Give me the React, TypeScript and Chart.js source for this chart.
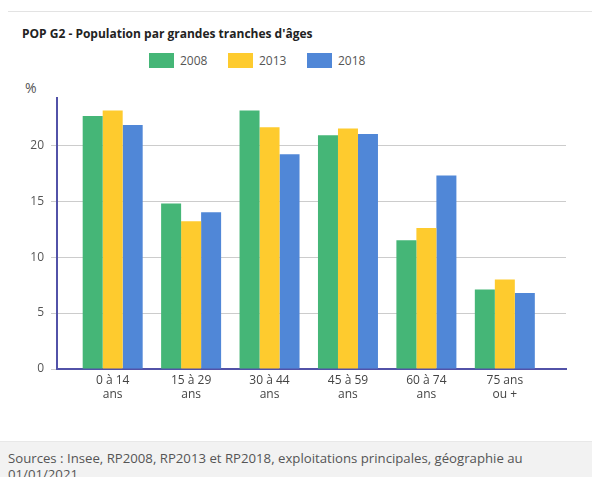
import React, { useEffect, useRef } from "react";
import { Chart, registerables } from "chart.js";

Chart.register(...registerables);

const categories: string[][] = [
  ["0 à 14", "ans"],
  ["15 à 29", "ans"],
  ["30 à 44", "ans"],
  ["45 à 59", "ans"],
  ["60 à 74", "ans"],
  ["75 ans", "ou +"],
];
const seriesNames = ["2008", "2013", "2018"];
const values2008 = [22.6, 14.8, 23.1, 20.9, 11.5, 7.1];
const values2013 = [23.1, 13.2, 21.6, 21.5, 12.6, 8.0];
const values2018 = [21.8, 14.0, 19.2, 21.0, 17.3, 6.8];
const yTicks = [0, 5, 10, 15, 20];
const colors = ["#45b677", "#fecb2e", "#5087d7"];

const FONT = "'Open Sans', 'Noto Sans', sans-serif";

export default function App() {
  const ref = useRef<HTMLCanvasElement | null>(null);

  useEffect(() => {
    if (!ref.current) return;
    const all = [values2008, values2013, values2018];
    const chart = new Chart(ref.current, {
      type: "bar",
      data: {
        datasets: all.map((vals, i) => ({
          label: seriesNames[i],
          data: vals.map((v, j) => ({ x: j, y: v })),
          backgroundColor: colors[i],
          borderWidth: 0,
          categoryPercentage: 0.765,
          barPercentage: 1,
        })),
      },
      options: {
        animation: false,
        responsive: false,
        maintainAspectRatio: false,
        layout: { padding: { top: 7, right: 26, bottom: 0, left: 0 } },
        plugins: {
          legend: { display: false },
          tooltip: { enabled: false },
        },
        scales: {
          x: {
            type: "linear",
            offset: false,
            min: -0.71,
            max: 5.78,
            afterBuildTicks: (scale: any) => {
              scale.ticks = categories.map((_, i) => ({ value: i }));
            },
            afterFit: (scale: any) => {
              scale.height = 51;
            },
            ticks: {
              autoSkip: false,
              maxRotation: 0,
              padding: 4,
              color: "#444",
              font: { family: FONT, size: 12 },
              callback: (v: any) => categories[v as number] ?? "",
            },
            grid: { display: false, drawTicks: false, offset: false },
            border: { color: "#5252a8", width: 2 },
          },
          y: {
            min: 0,
            max: 24.2,
            afterBuildTicks: (scale: any) => {
              scale.ticks = yTicks.map((v) => ({ value: v }));
            },
            afterFit: (scale: any) => {
              scale.width = 57;
            },
            ticks: {
              padding: 7,
              color: "#555",
              font: { family: FONT, size: 12 },
            },
            grid: { color: "#cccccc", tickLength: 6, lineWidth: 1 },
            border: { color: "#5252a8", width: 2 },
          },
        },
      },
    });
    return () => chart.destroy();
  }, []);

  return (
    <div
      style={{
        position: "absolute",
        left: 0,
        top: 0,
        width: 592,
        height: 477,
        overflow: "hidden",
        background: "#fff",
        fontFamily: FONT,
      }}
    >
      <div style={{ position: "absolute", left: 8, right: 0, top: 11, height: 1, background: "#e3e3e3" }} />
      <div
        style={{
          position: "absolute",
          left: 22,
          top: 25,
          fontSize: 12,
          fontWeight: 700,
          color: "#222",
          whiteSpace: "nowrap",
        }}
      >
        POP G2 - Population par grandes tranches d'âges
      </div>
      {seriesNames.map((name, i) => (
        <div
          key={name}
          style={{ position: "absolute", left: 149 + i * 79, top: 53, display: "flex", alignItems: "center" }}
        >
          <div style={{ width: 25, height: 15, background: colors[i] }} />
          <span style={{ marginLeft: 6, fontSize: 12, color: "#555", lineHeight: "15px" }}>{name}</span>
        </div>
      ))}
      <div style={{ position: "absolute", left: 25, top: 78, fontSize: 14, color: "#555" }}>%</div>
      <canvas
        ref={ref}
        width={592}
        height={336}
        style={{ position: "absolute", left: 0, top: 84, width: 592, height: 336 }}
      />
      <div
        style={{
          position: "absolute",
          left: 0,
          top: 441,
          width: 592,
          height: 36,
          background: "#f2f2f2",
          borderTop: "1px solid #e8e8e8",
          boxSizing: "border-box",
        }}
      >
        <div
          style={{
            position: "absolute",
            left: 8,
            top: 8,
            width: 545,
            fontSize: 13.2,
            lineHeight: "16px",
            color: "#555",
          }}
        >
          Sources : Insee, RP2008, RP2013 et RP2018, exploitations principales, géographie au 01/01/2021
        </div>
      </div>
    </div>
  );
}
